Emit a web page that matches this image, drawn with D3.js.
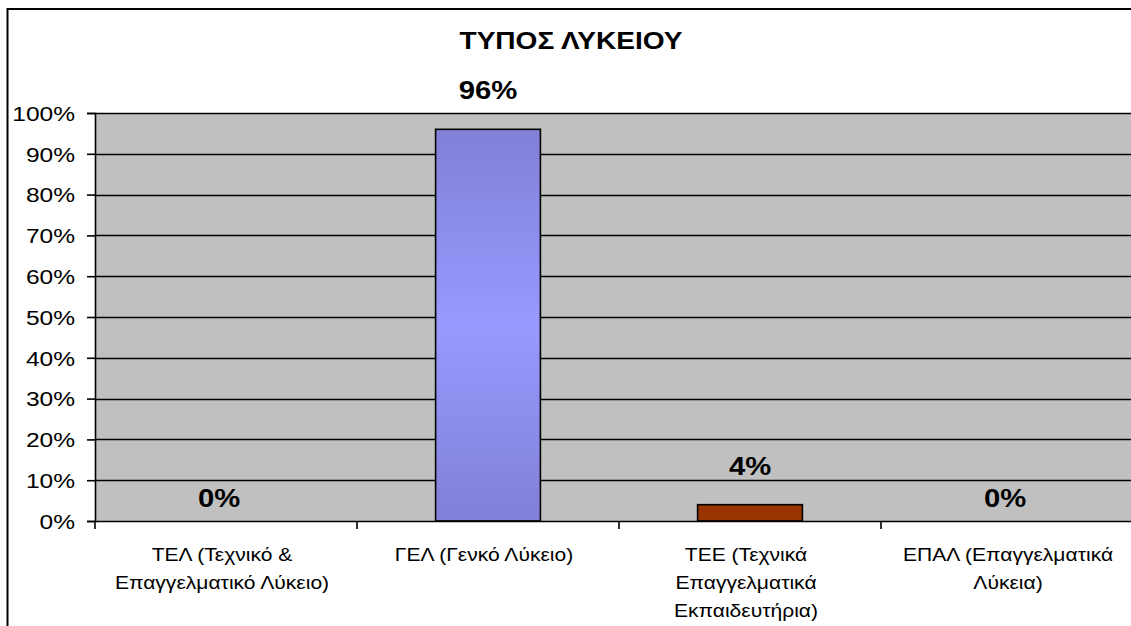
<html>
  <head>
    <meta charset="utf-8">
    <style>
body { margin: 0; background: white; }
text { font-family: "Liberation Sans", Arial, sans-serif; fill: black; }
    </style>
    <script src="https://d3js.org/d3.v7.min.js"></script>
  </head>
  <body>
    <div id="viz"></div>
    <script>

// chart data
var title = "ΤΥΠΟΣ ΛΥΚΕΙΟΥ";
var categories = ["ΤΕΛ", "ΓΕΛ", "ΤΕΕ", "ΕΠΑΛ"];
var categoryLabels = [
  ["ΤΕΛ (Τεχνικό &", "Επαγγελματικό Λύκειο)"],
  ["ΓΕΛ (Γενκό Λύκειο)"],
  ["ΤΕΕ (Τεχνικά", "Επαγγελματικά", "Εκπαιδευτήρια)"],
  ["ΕΠΑΛ (Επαγγελματικά", "Λύκεια)"]
];
var values = [0, 0.96, 0.04, 0];
var yTicks = [0, 0.1, 0.2, 0.3, 0.4, 0.5, 0.6, 0.7, 0.8, 0.9, 1.0];

var width = 1131, height = 626;
var plot = {left: 95, top: 113, bottom: 521, right: 95 + 4 * 262};
var sx = 1.17; // text in the reference is stretched horizontally

var svg = d3.select('#viz').append('svg')
    .attr('width', width)
    .attr('height', height);

var defs = svg.append('defs');
var grad = defs.append('linearGradient')
    .attr('id', 'blueGrad')
    .attr('x1', 0).attr('y1', 0).attr('x2', 0).attr('y2', 1);
grad.append('stop').attr('offset', '0%').attr('stop-color', '#8080d8');
grad.append('stop').attr('offset', '50%').attr('stop-color', '#9999ff');
grad.append('stop').attr('offset', '100%').attr('stop-color', '#8080d8');

var barColors = ['#9999ff', 'url(#blueGrad)', '#993300', '#9999ff'];

var x = d3.scaleBand()
    .domain(categories)
    .range([plot.left, plot.right])
    .padding(0);

var y = d3.scaleLinear()
    .domain([0, 1])
    .range([plot.bottom, plot.top]);

function stretched(sel, px, py) {
  return sel.attr('transform', 'translate(' + px + ',' + py + ') scale(' + sx + ',1)');
}

// outer frame
svg.append('rect')
    .attr('x', 7.5).attr('y', 9)
    .attr('width', 1300).attr('height', 800)
    .attr('fill', 'none')
    .attr('stroke', 'black')
    .attr('stroke-width', 2);

// title
stretched(svg.append('text'), 571, 49)
    .attr('text-anchor', 'middle')
    .style('font-size', '24px')
    .style('font-weight', 'bold')
    .text(title);

// plot background
svg.append('rect')
    .attr('x', plot.left).attr('y', plot.top)
    .attr('width', plot.right - plot.left)
    .attr('height', plot.bottom - plot.top)
    .attr('fill', '#c0c0c0');

// gridlines
svg.append('g').selectAll('line')
    .data(yTicks.slice(1))
    .enter().append('line')
    .attr('x1', plot.left).attr('x2', plot.right)
    .attr('y1', function(d) { return Math.round(y(d)) + 0.5; })
    .attr('y2', function(d) { return Math.round(y(d)) + 0.5; })
    .attr('stroke', 'black')
    .attr('stroke-width', 1.6);

// y axis
var yAxis = d3.axisLeft(y)
    .tickValues(yTicks)
    .tickFormat(d3.format('.0%'))
    .tickSize(8)
    .tickPadding(0);

var gy = svg.append('g')
    .attr('transform', 'translate(' + plot.left + ',0)')
    .call(yAxis);
gy.select('.domain').attr('stroke', 'black').attr('stroke-width', 1.6);
gy.selectAll('.tick line').attr('stroke', 'black').attr('stroke-width', 1.6);
gy.selectAll('.tick text')
    .attr('x', -17)
    .attr('dy', '0.35em')
    .attr('transform', 'scale(' + sx + ',1)')
    .style('font-size', '21px')
    .style('font-family', '"Liberation Sans", Arial, sans-serif');

// bars
var barW = x.bandwidth() * 0.4;
svg.append('g').selectAll('rect')
    .data(values)
    .enter().append('rect')
    .attr('x', function(d, i) { return x(categories[i]) + (x.bandwidth() - barW) / 2; })
    .attr('y', function(d) { return y(d); })
    .attr('width', barW)
    .attr('height', function(d) { return y(0) - y(d); })
    .attr('fill', function(d, i) { return barColors[i]; })
    .attr('stroke', 'black')
    .attr('stroke-width', function(d) { return d > 0 ? 1.6 : 0; });

// x axis line and ticks at band boundaries
svg.append('line')
    .attr('x1', plot.left).attr('x2', plot.right)
    .attr('y1', plot.bottom + 0.5).attr('y2', plot.bottom + 0.5)
    .attr('stroke', 'black').attr('stroke-width', 1.6);

svg.append('g').selectAll('line')
    .data(categories)
    .enter().append('line')
    .attr('x1', function(d) { return x(d); })
    .attr('x2', function(d) { return x(d); })
    .attr('y1', plot.bottom).attr('y2', plot.bottom + 8)
    .attr('stroke', 'black').attr('stroke-width', 1.6);

// value labels
svg.append('g').selectAll('text')
    .data(values)
    .enter().append('text')
    .attr('text-anchor', 'middle')
    .style('font-size', '25px')
    .style('font-weight', 'bold')
    .each(function(d, i) {
      var off = d > 0 ? 30 : 14;
      stretched(d3.select(this), x(categories[i]) + x.bandwidth() / 2 - (d > 0 ? 0 : 7), y(d) - off);
    })
    .text(function(d) { return d3.format('.0%')(d); });

// category labels
var cat = svg.append('g').selectAll('text')
    .data(categoryLabels)
    .enter().append('text')
    .attr('text-anchor', 'middle')
    .style('font-size', '18px')
    .each(function(d, i) {
      stretched(d3.select(this), x(categories[i]) + x.bandwidth() / 2 - 4, plot.bottom + 40);
    });

cat.selectAll('tspan')
    .data(function(d) { return d; })
    .enter().append('tspan')
    .attr('x', 0)
    .attr('y', function(d, i) { return i * 28; })
    .text(function(d) { return d; });

    </script>
  </body>
</html>
